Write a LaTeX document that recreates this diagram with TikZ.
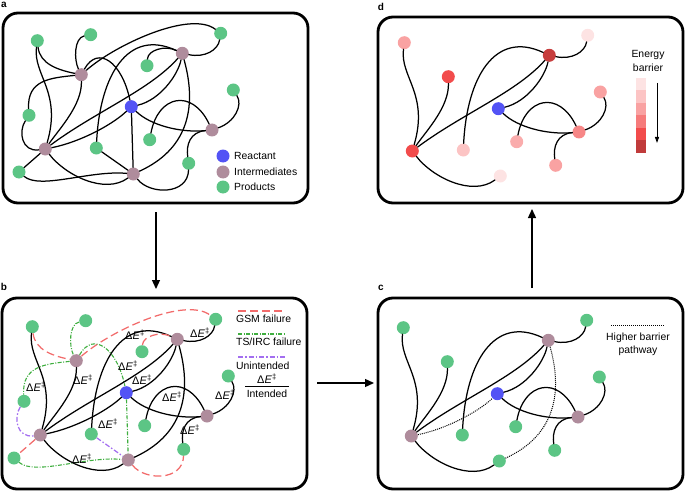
\documentclass[tikz,border=0pt]{standalone}
\usepackage{fontspec}
\setmainfont{Liberation Sans}
\usetikzlibrary{arrows.meta}
\definecolor{prod}{HTML}{5CC585}
\definecolor{inter}{HTML}{AF8C9C}
\definecolor{react}{HTML}{5353F5}
\definecolor{gsm}{HTML}{F26B6B}
\definecolor{tsirc}{HTML}{3FAE3F}
\definecolor{unint}{HTML}{A36EF0}
\definecolor{eA}{HTML}{FDE3E3}
\definecolor{eB}{HTML}{FCC4C4}
\definecolor{eC}{HTML}{F9A2A2}
\definecolor{eD}{HTML}{F67B7B}
\definecolor{eE}{HTML}{F24C4C}
\definecolor{eF}{HTML}{C03B3B}
\newcommand\dE{{\fontsize{11}{12}\selectfont Δ\textit{E}\textsuperscript{‡}}}
% edge paths (panel-a coordinates)
\newcommand\pGoneIone{(G1) .. controls (40,64) and (58,70) .. (I1)}
\newcommand\pGoneIfour{(G1) .. controls (33,75) and (62,92) .. (I4)}
\newcommand\pGtwoIone{(G2) .. controls (74,38) and (74,60) .. (I1)}
\newcommand\pIoneGsix{(I1) .. controls (50,78) and (27,80) .. (G6)}
\newcommand\pGsixIfour{(G6) .. controls (18,132) and (22,152) .. (I4)}
\newcommand\pIoneIfour{(I1) .. controls (82,105) and (60,128) .. (I4)}
\newcommand\pIoneGthree{(I1) .. controls (115,45) and (190,10) .. (G3)}
\newcommand\pIoneR{(I1) .. controls (98,45) and (122,62) .. (R)}
\newcommand\pIfourGten{(I4) .. controls (35,158) and (27,165) .. (G10)}
\newcommand\pGtenIfive{(G10) .. controls (40,190) and (90,170) .. (I5)}
\newcommand\pIfourIfive{(I4) .. controls (65,175) and (105,195) .. (I5)}
\newcommand\pIfourR{(I4) .. controls (80,142) and (112,125) .. (R)}
\newcommand\pGeightItwo{(G8) .. controls (100,75) and (128,28) .. (I2)}
\newcommand\pIfourItwo{(I4) .. controls (95,112) and (150,90) .. (I2)}
\newcommand\pRItwo{(R) .. controls (160,100) and (178,75) .. (I2)}
\newcommand\pGfourItwo{(G4) .. controls (148,50) and (165,45) .. (I2)}
\newcommand\pItwoGthree{(I2) .. controls (205,58) and (218,50) .. (G3)}
\newcommand\pItwoIfive{(I2) .. controls (198,110) and (186,150) .. (I5)}
\newcommand\pRIthree{(R) .. controls (150,125) and (180,133) .. (I3)}
\newcommand\pGsevenIthree{(G7) .. controls (158,95) and (192,88) .. (I3)}
\newcommand\pIthreeGnine{(I3) .. controls (190,132) and (186,145) .. (G9)}
\newcommand\pIthreeGfive{(I3) .. controls (235,122) and (243,105) .. (G5)}
\newcommand\pRIfive{(R) -- (I5)}
\newcommand\pGeightIfive{(G8) -- (I5)}
\newcommand\pIfiveGnine{(I5) .. controls (150,195) and (188,195) .. (G9)}
\begin{document}
\begin{tikzpicture}[x=1pt,y=-1pt,font=\fontsize{10.4}{12.5}\selectfont,
  dot/.style={circle,inner sep=0pt,minimum size=13pt},
  P/.style={dot,fill=prod}, Im/.style={dot,fill=inter}, Rc/.style={dot,fill=react},
  edge/.style={line width=1.25pt,line cap=round},
  gsmline/.style={line width=1.25pt,draw=gsm,dash pattern=on 8pt off 4pt},
  tsline/.style={line width=1.1pt,draw=tsirc,dash pattern=on 4pt off 1.5pt on 1pt off 1.5pt},
  unline/.style={line width=1.25pt,draw=unint,dash pattern=on 5pt off 2pt on 1.5pt off 2pt},
  hbline/.style={line width=1pt,dash pattern=on 1pt off 1pt},
  panel/.style={line width=2.8pt,rounded corners=15pt},
  plabel/.style={font=\fontsize{10}{12}\selectfont\bfseries,inner sep=0pt},
  flow/.style={line width=1.3pt,-{Triangle[length=9pt,width=8pt]}},
  dlab/.style={inner sep=0pt},
  txt/.style={inner sep=0pt,anchor=west},
]
\useasboundingbox (0,0) rectangle (685,492);
% ---------- panel boxes ----------
\draw[panel] (3,13) rectangle (308,203);
\draw[panel] (2,298) rectangle (307,489);
\draw[panel] (378,298) rectangle (683,489);
\draw[panel] (378,17) rectangle (683,203);
\node[plabel] (la) at (4,5) {a};
\node[plabel] (lb) at (4,287) {b};
\node[plabel] (lc) at (381,288) {c};
\node[plabel] (ld) at (381,7) {d};
% ---------- flow arrows ----------
\coordinate (ab1) at (156,212); \coordinate (ab2) at (156,289);
\coordinate (bc1) at (317,383); \coordinate (bc2) at (374,383);
\coordinate (cd1) at (532,288); \coordinate (cd2) at (532,209);
\draw[flow] (ab1) -- (ab2);
\draw[flow] (bc1) -- (bc2);
\draw[flow] (cd1) -- (cd2);
% ---------- panel a ----------
\begin{scope}[name prefix=a-]
\node[P] (G1) at (37.3,40.7) {};
\node[P] (G2) at (90.7,34.7) {};
\node[P] (G3) at (220.7,33.3) {};
\node[Im] (I1) at (81.3,74.7) {};
\node[Im] (I2) at (182.3,53.3) {};
\node[P] (G4) at (147,65.7) {};
\node[Rc] (R) at (131.3,106.7) {};
\node[P] (G5) at (233.3,90) {};
\node[P] (G6) at (29,115.3) {};
\node[Im] (I3) at (212,130) {};
\node[P] (G7) at (149.7,139.7) {};
\node[Im] (I4) at (45.3,149) {};
\node[P] (G8) at (96.3,148) {};
\node[P] (G9) at (188.7,163.3) {};
\node[P] (G10) at (19,172) {};
\node[Im] (I5) at (133.3,174) {};
\draw[edge] \pGoneIone; \draw[edge] \pGoneIfour; \draw[edge] \pGtwoIone;
\draw[edge] \pIoneGsix; \draw[edge] \pGsixIfour; \draw[edge] \pIoneIfour;
\draw[edge] \pIoneGthree; \draw[edge] \pIoneR; \draw[edge] \pIfourGten;
\draw[edge] \pGtenIfive; \draw[edge] \pIfourIfive; \draw[edge] \pIfourR;
\draw[edge] \pGeightItwo; \draw[edge] \pIfourItwo; \draw[edge] \pRItwo;
\draw[edge] \pGfourItwo; \draw[edge] \pItwoGthree; \draw[edge] \pItwoIfive;
\draw[edge] \pRIthree; \draw[edge] \pGsevenIthree; \draw[edge] \pIthreeGnine;
\draw[edge] \pIthreeGfive; \draw[edge] \pRIfive; \draw[edge] \pGeightIfive;
\draw[edge] \pIfiveGnine;
% legend
\node[Rc] (kR) at (223,156) {};
\node[Im] (kI) at (223,172) {};
\node[P] (kP) at (223,187) {};
\node[txt] (tR) at (234,156) {Reactant};
\node[txt] (tI) at (234,172) {Intermediates};
\node[txt] (tP) at (234,187) {Products};
\end{scope}
% ---------- panel b ----------
\begin{scope}[shift={(-5,286)},name prefix=b-]
\node[P] (G1) at (37.3,40.7) {};
\node[P] (G2) at (90.7,34.7) {};
\node[P] (G3) at (220.7,33.3) {};
\node[Im] (I1) at (81.3,74.7) {};
\node[Im] (I2) at (182.3,53.3) {};
\node[P] (G4) at (147,65.7) {};
\node[Rc] (R) at (131.3,106.7) {};
\node[P] (G5) at (233.3,90) {};
\node[P] (G6) at (29,115.3) {};
\node[Im] (I3) at (212,130) {};
\node[P] (G7) at (149.7,139.7) {};
\node[Im] (I4) at (45.3,149) {};
\node[P] (G8) at (96.3,148) {};
\node[P] (G9) at (188.7,163.3) {};
\node[P] (G10) at (19,172) {};
\node[Im] (I5) at (133.3,174) {};
\draw[gsmline] \pGoneIone; \draw[edge] \pGoneIfour; \draw[tsline] \pGtwoIone;
\draw[tsline] \pIoneGsix; \draw[unline] \pGsixIfour; \draw[edge] \pIoneIfour;
\draw[gsmline] \pIoneGthree; \draw[tsline] \pIoneR; \draw[gsmline] \pIfourGten;
\draw[tsline] \pGtenIfive; \draw[edge] \pIfourIfive; \draw[edge] \pIfourR;
\draw[edge] \pGeightItwo; \draw[edge] \pIfourItwo; \draw[edge] \pRItwo;
\draw[gsmline] \pGfourItwo; \draw[edge] \pItwoGthree; \draw[edge] \pItwoIfive;
\draw[edge] \pRIthree; \draw[edge] \pGsevenIthree; \draw[edge] \pIthreeGnine;
\draw[edge] \pIthreeGfive; \draw[tsline] \pRIfive; \draw[unline] \pGeightIfive;
\draw[gsmline] \pIfiveGnine;
\end{scope}
\node[dlab] (e1) at (36,387) {\dE};
\node[dlab] (e2) at (83,380) {\dE};
\node[dlab] (e3) at (135,335) {\dE};
\node[dlab] (e4) at (128,366) {\dE};
\node[dlab] (e5) at (142,380) {\dE};
\node[dlab] (e6) at (108,424) {\dE};
\node[dlab] (e7) at (82,459) {\dE};
\node[dlab] (e8) at (172,397) {\dE};
\node[dlab] (e9) at (190,430) {\dE};
\node[dlab] (e10) at (200,333) {\dE};
\node[dlab] (e11) at (225,395) {\dE};
% legend b
\coordinate (k1a) at (238,311); \coordinate (k1b) at (285,311);
\coordinate (k2a) at (238,334); \coordinate (k2b) at (285,334);
\coordinate (k3a) at (238,357); \coordinate (k3b) at (285,357);
\draw[gsmline,line width=1.6pt] (k1a) -- (k1b);
\draw[tsline] (k2a) -- (k2b);
\draw[unline,line width=1.6pt] (k3a) -- (k3b);
\node[txt] (tg) at (236,319) {GSM failure};
\node[txt] (tt) at (236,342) {TS/IRC failure};
\node[txt] (tu) at (236,366) {Unintended};
\node[dlab] (fn) at (267,379) {\dE};
\coordinate (fr1) at (245,386); \coordinate (fr2) at (289,386);
\draw[line width=0.9pt] (fr1) -- (fr2);
\node[dlab] (fd) at (267,394) {Intended};
% ---------- panel c ----------
\begin{scope}[shift={(366,287)},name prefix=c-]
\node[P] (G1) at (37.3,40.7) {};
\node[P] (G3) at (220.7,33.3) {};
\node[P] (I1) at (81.3,74.7) {};
\node[Im] (I2) at (182.3,53.3) {};
\node[Rc] (R) at (131.3,106.7) {};
\node[P] (G5) at (233.3,90) {};
\node[Im] (I3) at (212,130) {};
\node[P] (G7) at (149.7,139.7) {};
\node[Im] (I4) at (45.3,149) {};
\node[P] (G8) at (96.3,148) {};
\node[P] (G9) at (188.7,163.3) {};
\node[P] (I5) at (133.3,174) {};
\draw[edge] \pGoneIfour; \draw[edge] \pIoneIfour;
\draw[edge] \pIfourIfive; \draw[hbline] \pIfourR;
\draw[edge] \pGeightItwo; \draw[edge] \pIfourItwo; \draw[edge] \pRItwo;
\draw[edge] \pItwoGthree; \draw[hbline] \pItwoIfive;
\draw[edge] \pRIthree; \draw[edge] \pGsevenIthree; \draw[edge] \pIthreeGnine;
\draw[edge] \pIthreeGfive;
\end{scope}
\coordinate (hb1) at (611,325); \coordinate (hb2) at (665,325);
\draw[hbline] (hb1) -- (hb2);
\node[dlab] (th1) at (638,338) {Higher barrier};
\node[dlab] (th2) at (638,351) {pathway};
% ---------- panel d ----------
\begin{scope}[shift={(367,2)},name prefix=d-]
\node[dot,fill=eC] (G1) at (37.3,40.7) {};
\node[dot,fill=eA] (G3) at (220.7,33.3) {};
\node[dot,fill=eE] (I1) at (81.3,74.7) {};
\node[dot,fill=eF!85!eE] (I2) at (182.3,53.3) {};
\node[Rc] (R) at (131.3,106.7) {};
\node[dot,fill=eC] (G5) at (233.3,90) {};
\node[dot,fill=eD!70!eC] (I3) at (212,130) {};
\node[dot,fill=eC!70!eB] (G7) at (149.7,139.7) {};
\node[dot,fill=eE] (I4) at (45.3,149) {};
\node[dot,fill=eB] (G8) at (96.3,148) {};
\node[dot,fill=eC] (G9) at (188.7,163.3) {};
\node[dot,fill=eA] (I5) at (133.3,174) {};
\draw[edge] \pGoneIfour; \draw[edge] \pIoneIfour;
\draw[edge] \pIfourIfive;
\draw[edge] \pGeightItwo; \draw[edge] \pIfourItwo; \draw[edge] \pRItwo;
\draw[edge] \pItwoGthree;
\draw[edge] \pRIthree; \draw[edge] \pGsevenIthree; \draw[edge] \pIthreeGnine;
\draw[edge] \pIthreeGfive;
\end{scope}
\node[dlab] (en1) at (648,55) {Energy};
\node[dlab] (en2) at (648,68) {barrier};
\fill[eA] (636,78) rectangle (646,90.5);
\fill[eB] (636,90.5) rectangle (646,103);
\fill[eC] (636,103) rectangle (646,115.5);
\fill[eD] (636,115.5) rectangle (646,128);
\fill[eE] (636,128) rectangle (646,140.5);
\fill[eF] (636,140.5) rectangle (646,153);
\coordinate (ea1) at (657,83); \coordinate (ea2) at (657,143);
\draw[line width=0.9pt,-{Triangle[length=6pt,width=4pt]}] (ea1) -- (ea2);
\end{tikzpicture}
\end{document}
